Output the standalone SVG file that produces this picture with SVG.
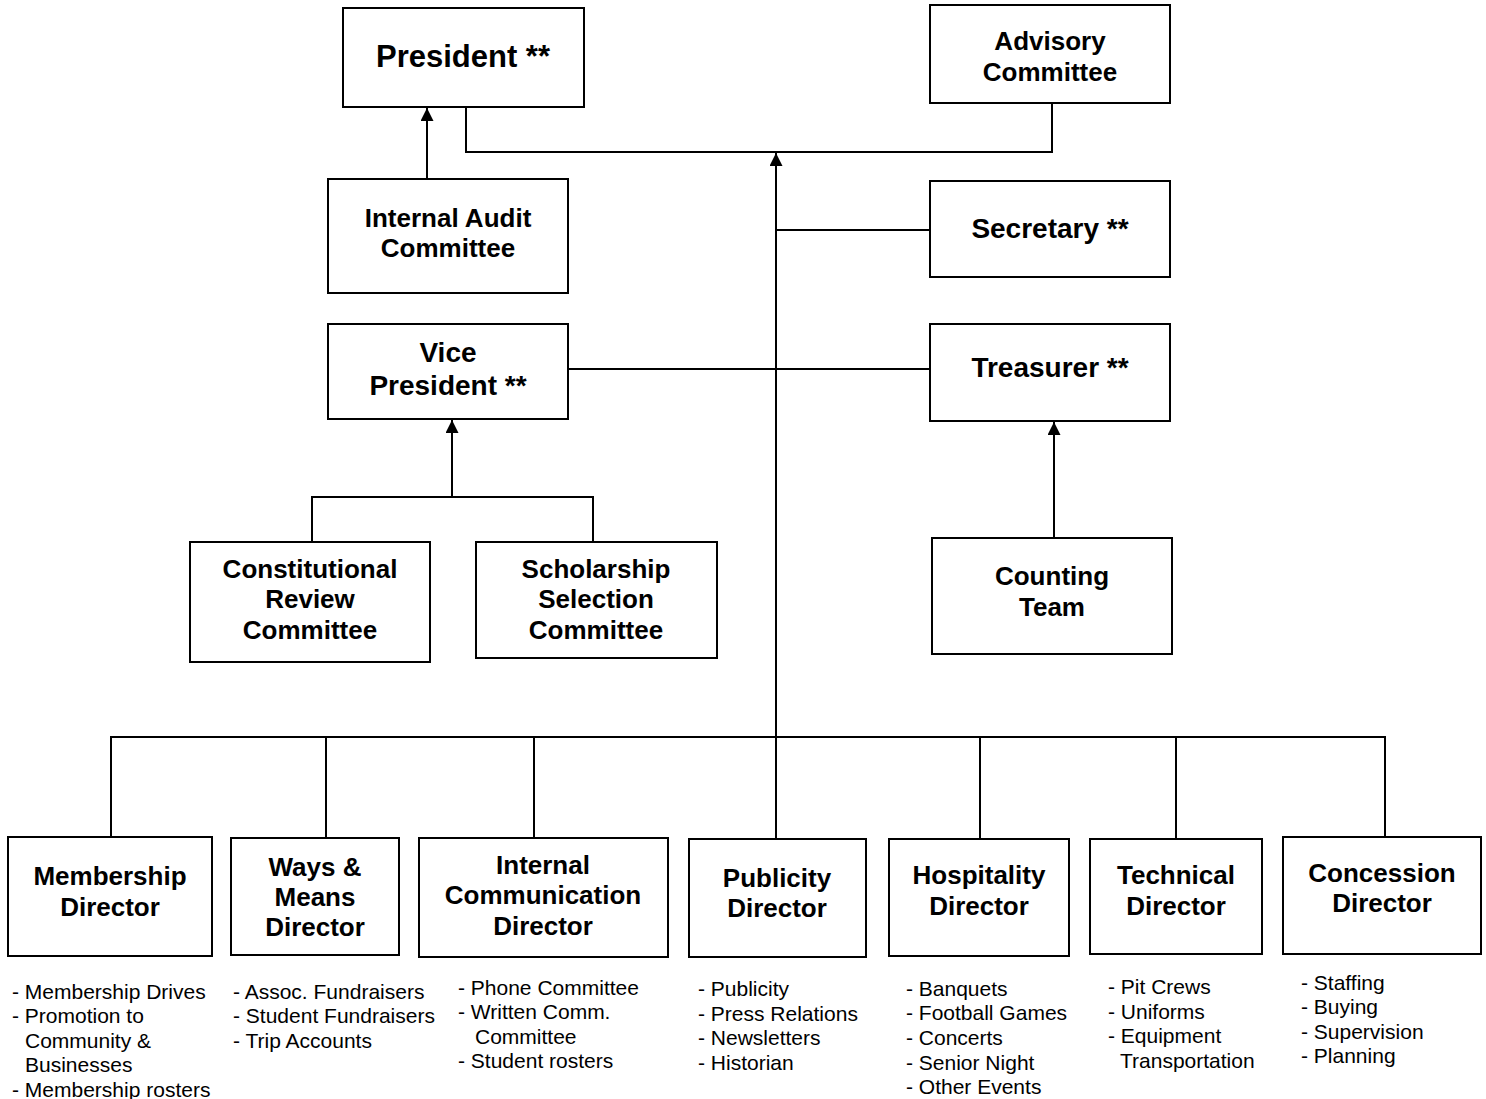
<svg xmlns="http://www.w3.org/2000/svg" width="1486" height="1099" viewBox="0 0 1486 1099">
<style>
.box{fill:#fff;stroke:#000;stroke-width:2}
.t{font-family:"Liberation Sans",Arial,sans-serif;font-weight:bold;font-size:26px;text-anchor:middle;fill:#000}
.t28{font-size:28px}
.t31{font-size:31px}
.l{font-family:"Liberation Sans",Arial,sans-serif;font-size:21px;fill:#000}
.c{fill:none;stroke:#000;stroke-width:2}
</style>
<defs>
<marker id="arr" viewBox="0 0 10 10" refX="10" refY="5" markerWidth="14" markerHeight="13" markerUnits="userSpaceOnUse" orient="auto">
<path d="M0,0 L10,5 L0,10 z" fill="#000"/>
</marker>
</defs>
<g id="connectors">
<polyline class="c" points="466,107 466,152 1052,152 1052,103"/>
<line class="c" x1="776" y1="737" x2="776" y2="153" marker-end="url(#arr)"/>
<line class="c" x1="776" y1="737" x2="776" y2="839"/>
<line class="c" x1="776" y1="230" x2="930" y2="230"/>
<line class="c" x1="568" y1="369" x2="930" y2="369"/>
<line class="c" x1="427" y1="179" x2="427" y2="108" marker-end="url(#arr)"/>
<line class="c" x1="452" y1="497" x2="452" y2="420" marker-end="url(#arr)"/>
<polyline class="c" points="312,542 312,497 593,497 593,542"/>
<line class="c" x1="1054" y1="538" x2="1054" y2="422" marker-end="url(#arr)"/>
<line class="c" x1="110" y1="737" x2="1386" y2="737"/>
<line class="c" x1="111" y1="737" x2="111" y2="837"/>
<line class="c" x1="326" y1="737" x2="326" y2="838"/>
<line class="c" x1="534" y1="737" x2="534" y2="838"/>
<line class="c" x1="980" y1="737" x2="980" y2="839"/>
<line class="c" x1="1176" y1="737" x2="1176" y2="839"/>
<line class="c" x1="1385" y1="737" x2="1385" y2="837"/>
</g>
<g id="president"><rect class="box" x="343" y="8" width="241" height="99"/><text class="t t31" x="463" y="67">President **</text></g>
<g id="advisory"><rect class="box" x="930" y="5" width="240" height="98"/><text class="t" x="1050" y="50">Advisory</text><text class="t" x="1050" y="81">Committee</text></g>
<g id="audit"><rect class="box" x="328" y="179" width="240" height="114"/><text class="t" x="448" y="227">Internal Audit</text><text class="t" x="448" y="257">Committee</text></g>
<g id="secretary"><rect class="box" x="930" y="181" width="240" height="96"/><text class="t t28" x="1050" y="238">Secretary **</text></g>
<g id="vice-president"><rect class="box" x="328" y="324" width="240" height="95"/><text class="t t28" x="448" y="362">Vice</text><text class="t t28" x="448" y="395">President **</text></g>
<g id="treasurer"><rect class="box" x="930" y="324" width="240" height="97"/><text class="t t28" x="1050" y="377">Treasurer **</text></g>
<g id="constitutional"><rect class="box" x="190" y="542" width="240" height="120"/><text class="t" x="310" y="578">Constitutional</text><text class="t" x="310" y="608">Review</text><text class="t" x="310" y="639">Committee</text></g>
<g id="scholarship"><rect class="box" x="476" y="542" width="241" height="116"/><text class="t" x="596" y="578">Scholarship</text><text class="t" x="596" y="608">Selection</text><text class="t" x="596" y="639">Committee</text></g>
<g id="counting"><rect class="box" x="932" y="538" width="240" height="116"/><text class="t" x="1052" y="585">Counting</text><text class="t" x="1052" y="616">Team</text></g>
<g id="membership"><rect class="box" x="8" y="837" width="204" height="119"/><text class="t" x="110" y="885">Membership</text><text class="t" x="110" y="916">Director</text>
<text class="l" x="12" y="999">- Membership Drives</text><text class="l" x="12" y="1023">- Promotion to</text><text class="l" x="25" y="1048">Community &amp;</text><text class="l" x="25" y="1072">Businesses</text><text class="l" x="12" y="1097">- Membership rosters</text></g>
<g id="ways-means"><rect class="box" x="231" y="838" width="168" height="117"/><text class="t" x="315" y="876">Ways &amp;</text><text class="t" x="315" y="906">Means</text><text class="t" x="315" y="936">Director</text>
<text class="l" x="233" y="999">- Assoc. Fundraisers</text><text class="l" x="233" y="1023">- Student Fundraisers</text><text class="l" x="233" y="1048">- Trip Accounts</text></g>
<g id="internal-communication"><rect class="box" x="419" y="838" width="249" height="119"/><text class="t" x="543" y="874">Internal</text><text class="t" x="543" y="904">Communication</text><text class="t" x="543" y="935">Director</text>
<text class="l" x="458" y="995">- Phone Committee</text><text class="l" x="458" y="1019">- Written Comm.</text><text class="l" x="475" y="1044">Committee</text><text class="l" x="458" y="1068">- Student rosters</text></g>
<g id="publicity"><rect class="box" x="689" y="839" width="177" height="118"/><text class="t" x="777" y="887">Publicity</text><text class="t" x="777" y="917">Director</text>
<text class="l" x="698" y="996">- Publicity</text><text class="l" x="698" y="1021">- Press Relations</text><text class="l" x="698" y="1045">- Newsletters</text><text class="l" x="698" y="1070">- Historian</text></g>
<g id="hospitality"><rect class="box" x="889" y="839" width="180" height="117"/><text class="t" x="979" y="884">Hospitality</text><text class="t" x="979" y="915">Director</text>
<text class="l" x="906" y="996">- Banquets</text><text class="l" x="906" y="1020">- Football Games</text><text class="l" x="906" y="1045">- Concerts</text><text class="l" x="906" y="1070">- Senior Night</text><text class="l" x="906" y="1094">- Other Events</text></g>
<g id="technical"><rect class="box" x="1090" y="839" width="172" height="115"/><text class="t" x="1176" y="884">Technical</text><text class="t" x="1176" y="915">Director</text>
<text class="l" x="1108" y="994">- Pit Crews</text><text class="l" x="1108" y="1019">- Uniforms</text><text class="l" x="1108" y="1043">- Equipment</text><text class="l" x="1120" y="1068">Transportation</text></g>
<g id="concession"><rect class="box" x="1283" y="837" width="198" height="117"/><text class="t" x="1382" y="882">Concession</text><text class="t" x="1382" y="912">Director</text>
<text class="l" x="1301" y="990">- Staffing</text><text class="l" x="1301" y="1014">- Buying</text><text class="l" x="1301" y="1039">- Supervision</text><text class="l" x="1301" y="1063">- Planning</text></g>
</svg>
